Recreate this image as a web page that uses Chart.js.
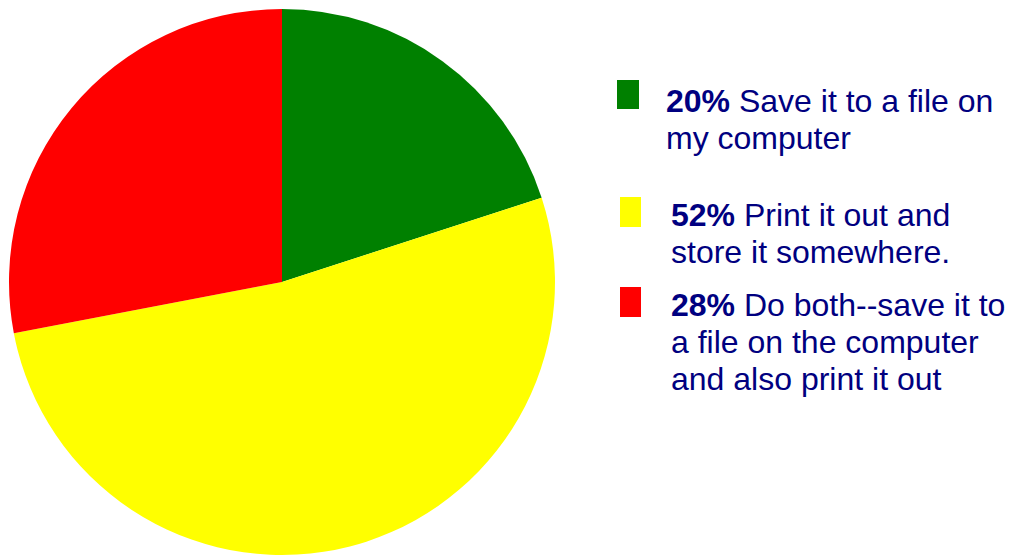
<!DOCTYPE html>
<html>
<head>
<meta charset="utf-8">
<script src="https://cdn.jsdelivr.net/npm/chart.js@4"></script>
<style>
  html, body { margin: 0; padding: 0; background: #fff; }
  body { width: 1011px; height: 559px; position: relative; overflow: hidden; font-family: "Liberation Sans", Arial, sans-serif; }
  #pie-wrap { position: absolute; left: 0; top: 0; width: 564px; height: 559px; }
  .swatch { position: absolute; }
  .entry { position: absolute; color: #000080; font-size: 32px; line-height: 37px; white-space: nowrap; }
  .entry b { font-weight: bold; }
</style>
</head>
<body>
<div id="pie-wrap"><canvas id="pieChart"></canvas></div>

<script>
// --- Data ---
const percents = [20, 52, 28];
const labelLines = [
    ['Save it to a file on', 'my computer'],
    ['Print it out and', 'store it somewhere.'],
    ['Do both--save it to', 'a file on the computer', 'and also print it out']
];
const sliceColors = ['#008000', '#ffff00', '#ff0000'];

// legend placement (swatch box + text block) for each entry
const legendSpots = [
    { sx: 617, sy: 80, sw: 22, sh: 29, tx: 666, ty: 83 },
    { sx: 620, sy: 197, sw: 21, sh: 30, tx: 671, ty: 197 },
    { sx: 620, sy: 287, sw: 21, sh: 30, tx: 671, ty: 287 }
];

// Build the legend on the right
percents.forEach((pct, i) => {
    const spot = legendSpots[i];
    const sw = document.createElement('div');
    sw.className = 'swatch';
    sw.style.left = spot.sx + 'px';
    sw.style.top = spot.sy + 'px';
    sw.style.width = spot.sw + 'px';
    sw.style.height = spot.sh + 'px';
    sw.style.background = sliceColors[i];
    document.body.appendChild(sw);

    const txt = document.createElement('div');
    txt.className = 'entry';
    txt.style.left = spot.tx + 'px';
    txt.style.top = spot.ty + 'px';
    txt.innerHTML = labelLines[i].map((line, j) => j === 0 ? `<b>${pct}%</b> ${line}` : line).join('<br>');
    document.body.appendChild(txt);
});

// Pie chart
const ctx = document.getElementById('pieChart').getContext('2d');
new Chart(ctx, {
    type: 'pie',
    data: {
        labels: labelLines.map(l => l.join(' ')),
        datasets: [{
            data: percents,
            backgroundColor: sliceColors,
            borderWidth: 0
        }]
    },
    options: {
        responsive: true,
        maintainAspectRatio: false,
        animation: false,
        layout: { padding: { left: 9, right: 9, top: 9, bottom: 4 } },
        plugins: {
            legend: { display: false },
            tooltip: { enabled: false }
        }
    }
});
</script>
</body>
</html>
